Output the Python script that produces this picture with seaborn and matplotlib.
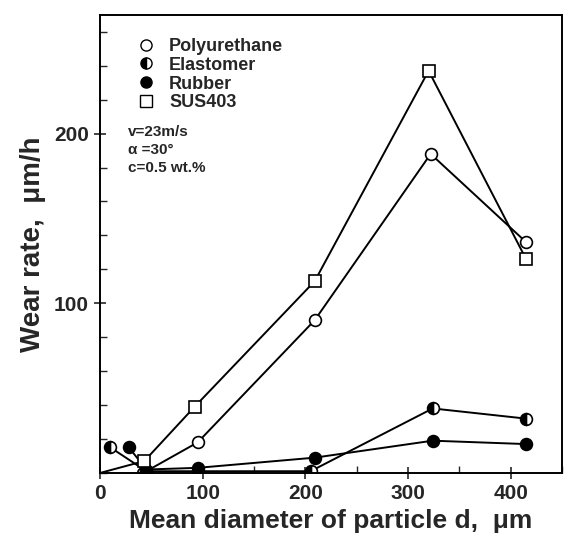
import numpy as np
import pandas as pd
import matplotlib
matplotlib.use("Agg")
import matplotlib.pyplot as plt
import seaborn as sns
from matplotlib.lines import Line2D
from matplotlib.ticker import MultipleLocator

# -----------------------------
# Data
# -----------------------------
poly_d = [42, 95, 209, 322, 415]
poly_w = [0, 18, 90, 188, 136]

elast_d = [10, 45, 95, 205, 324, 415]
elast_w = [15, 1, 1, 1, 38, 32]

rubber_d = [28, 45, 95, 209, 324, 415]
rubber_w = [15, 2, 3, 9, 19, 17]

sus_d = [0, 43, 92, 209, 320, 415]
sus_w = [0, 7, 39, 113, 237, 126]

x_ticks = [0, 100, 200, 300, 400]
y_ticks = [100, 200]
conditions = ["v=23m/s", "\u03b1 =30\u00b0", "c=0.5 wt.%"]

# -----------------------------
# Style
# -----------------------------
sns.set_style("ticks")
plt.rcParams["font.family"] = ["Liberation Sans", "DejaVu Sans"]

fig = plt.figure(figsize=(5.66, 5.48), dpi=100)
ax = fig.add_axes([0.177, 0.137, 0.816, 0.836])

line_kw = dict(color="black", linewidth=1.4, markersize=8.5,
               markeredgecolor="black", markeredgewidth=1.2)

sns.lineplot(x=poly_d, y=poly_w, ax=ax, marker="o", markerfacecolor="white",
             sort=False, **line_kw)
sns.lineplot(x=elast_d, y=elast_w, ax=ax, marker="o", fillstyle="left",
             markerfacecolor="black", markerfacecoloralt="white",
             sort=False, **line_kw)
sns.lineplot(x=rubber_d, y=rubber_w, ax=ax, marker="o", markerfacecolor="black",
             sort=False, **line_kw)
sns.lineplot(x=sus_d, y=sus_w, ax=ax, marker="s", markerfacecolor="white",
             markevery=list(range(1, len(sus_d))), sort=False, **line_kw)

ax.set_xlim(0, 450)
ax.set_ylim(0, 270)
ax.set_xticks(x_ticks)
ax.set_yticks(y_ticks)
ax.xaxis.set_minor_locator(MultipleLocator(50))
ax.yaxis.set_minor_locator(MultipleLocator(20))
ax.tick_params(which="major", direction="inout", length=9, width=1.2,
               labelsize=15)
ax.tick_params(which="minor", direction="in", length=5, width=1.0)
for lab in ax.get_xticklabels() + ax.get_yticklabels():
    lab.set_fontweight("bold")
for s in ax.spines.values():
    s.set_linewidth(1.4)
    s.set_color("black")

ax.set_xlabel("Mean diameter of particle d,  \u03bcm", fontsize=19,
              fontweight="bold", labelpad=4)
ax.set_ylabel("Wear rate,  \u03bcm/h", fontsize=20, fontweight="bold",
              labelpad=6)

# Legend (markers only)
handles = [
    Line2D([], [], linestyle="none", marker="o", markerfacecolor="white",
           markeredgecolor="black", markersize=8),
    Line2D([], [], linestyle="none", marker="o", fillstyle="left",
           markerfacecolor="black", markerfacecoloralt="white",
           markeredgecolor="black", markersize=8),
    Line2D([], [], linestyle="none", marker="o", markerfacecolor="black",
           markeredgecolor="black", markersize=8),
    Line2D([], [], linestyle="none", marker="s", markerfacecolor="white",
           markeredgecolor="black", markersize=8),
]
labels = ["Polyurethane", "Elastomer", "Rubber", "SUS403"]
leg = ax.legend(handles, labels, loc="upper left", bbox_to_anchor=(0.04, 0.985),
                frameon=False, fontsize=13, handletextpad=0.7,
                labelspacing=0.1, handlelength=1.2)
for t in leg.get_texts():
    t.set_fontweight("bold")

for i, txt in enumerate(conditions):
    ax.text(0.06, 0.745 - i * 0.04, txt, transform=ax.transAxes,
            fontsize=11, fontweight="bold", va="center")

fig.savefig("out.png", dpi=100)
